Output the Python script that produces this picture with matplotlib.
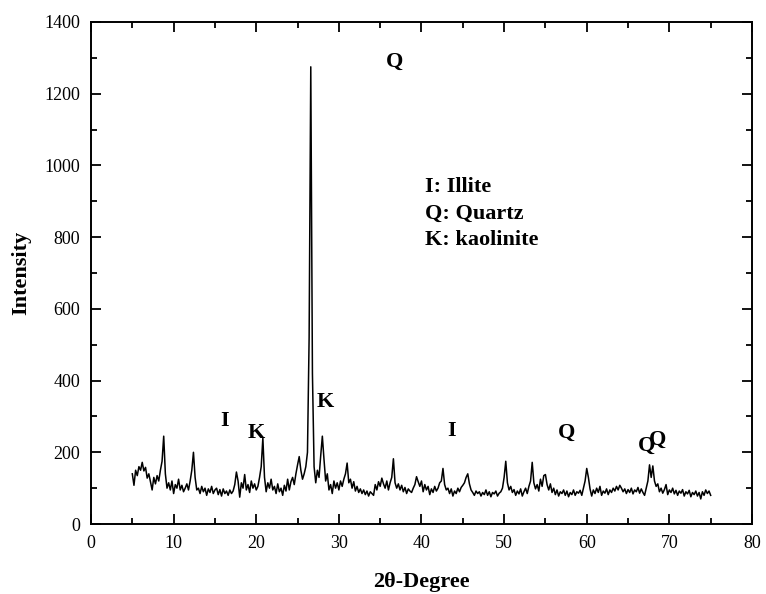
"""
XRD pattern of the clay sample (I: illite, Q: quartz, K: kaolinite)
"""

import numpy as np
import matplotlib
matplotlib.use("Agg")

import matplotlib.pyplot as plt
from matplotlib.ticker import MultipleLocator

# ── DATA ──────────────────────────────────────────────
# intensity, one value every 0.2 deg from 5 to 75
intensity = [
    140, 108, 150, 135, 160, 150, 172, 148, 158, 128,   # 5.0
    140, 118, 95, 130, 112, 135, 120, 150, 175, 245,    # 7.0
    140, 100, 115, 95, 120, 85, 110, 100, 125, 95,      # 9.0
    108, 90, 100, 112, 95, 120, 150, 200, 130, 95,      # 11.0
    100, 85, 105, 90, 100, 80, 98, 88, 105, 85,         # 13.0
    95, 100, 82, 96, 78, 98, 85, 92, 80, 95,            # 15.0
    85, 92, 110, 145, 120, 75, 115, 100, 138, 95,       # 17.0
    110, 88, 120, 100, 112, 95, 105, 130, 160, 240,     # 19.0
    130, 90, 115, 100, 125, 95, 105, 85, 112, 90,       # 21.0
    100, 80, 108, 92, 125, 95, 118, 130, 110, 140,      # 23.0
    165, 188, 150, 125, 140, 160, 200, 520, 1275, 420,  # 25.0
    160, 115, 150, 130, 190, 245, 180, 120, 140, 95,    # 27.0
    110, 85, 120, 100, 115, 95, 120, 105, 125, 140,     # 29.0
    170, 115, 125, 100, 118, 92, 105, 88, 98, 85,       # 31.0
    95, 82, 92, 78, 90, 85, 80, 110, 95, 118,           # 33.0
    105, 128, 112, 100, 120, 95, 115, 130, 182, 115,    # 35.0
    100, 112, 95, 108, 90, 102, 85, 98, 92, 88,         # 37.0
    100, 110, 132, 118, 105, 120, 90, 110, 95, 105,     # 39.0
    82, 98, 88, 105, 92, 100, 115, 120, 155, 110,       # 41.0
    95, 100, 85, 98, 78, 92, 85, 100, 90, 102,          # 43.0
    108, 115, 130, 140, 112, 95, 88, 80, 92, 85,        # 45.0
    90, 78, 88, 82, 95, 80, 90, 76, 88, 84,             # 47.0
    92, 78, 86, 90, 100, 130, 175, 115, 95, 105,        # 49.0
    88, 96, 80, 92, 84, 98, 78, 90, 100, 85,            # 51.0
    105, 120, 172, 115, 98, 110, 92, 125, 105, 135,     # 53.0
    138, 110, 95, 112, 88, 100, 82, 95, 78, 90,         # 55.0
    85, 95, 80, 92, 76, 88, 82, 95, 80, 90,             # 57.0
    86, 94, 80, 100, 120, 155, 130, 98, 78, 95,         # 59.0
    85, 100, 88, 105, 80, 92, 86, 98, 82, 95,           # 61.0
    88, 100, 92, 105, 95, 108, 100, 90, 98, 85,         # 63.0
    96, 88, 100, 84, 95, 90, 102, 86, 98, 88,           # 65.0
    80, 100, 120, 165, 130, 162, 120, 105, 112, 90,     # 67.0
    100, 86, 96, 110, 82, 95, 88, 100, 84, 94,          # 69.0
    80, 92, 86, 96, 78, 90, 84, 94, 76, 88,             # 71.0
    82, 92, 78, 88, 70, 90, 80, 95, 85, 92,             # 73.0
    80,                                                 # 75.0
]
two_theta = np.linspace(5, 75, len(intensity))

# peak labels: (text, 2theta, intensity)
peak_labels = ["Q", "I", "K", "K", "I", "Q", "Q", "Q"]
peak_x = [36.8, 16.2, 20.0, 28.3, 43.7, 57.6, 67.2, 68.6]
peak_y = [1288, 287, 254, 340, 259, 254, 217, 236]

legend_lines = ["I: Illite", "Q: Quartz", "K: kaolinite"]

# ── STYLE ─────────────────────────────────────────────
plt.rcParams["font.family"] = ["Liberation Serif", "DejaVu Serif"]

fig = plt.figure(figsize=(7.66, 5.94), dpi=100)
ax = fig.add_axes([0.1188, 0.1178, 0.8629, 0.8452])

ax.plot(two_theta, intensity, color="black", lw=1.1)

ax.set_xlim(0, 80)
ax.set_ylim(0, 1400)
ax.xaxis.set_major_locator(MultipleLocator(10))
ax.xaxis.set_minor_locator(MultipleLocator(5))
ax.yaxis.set_major_locator(MultipleLocator(200))
ax.yaxis.set_minor_locator(MultipleLocator(100))

ax.tick_params(which="both", direction="in", top=True, right=True,
               width=1.3, labelsize=13)
ax.tick_params(which="major", length=7)
ax.tick_params(which="minor", length=4)
ax.tick_params(axis="x", pad=8)
ax.tick_params(axis="y", pad=8)
for s in ax.spines.values():
    s.set_linewidth(1.4)

ax.set_xlabel("2θ-Degree", fontsize=16, fontweight="bold", labelpad=14)
ax.set_ylabel("Intensity", fontsize=16, fontweight="bold", labelpad=9)

# peak letters
for lab, px, py in zip(peak_labels, peak_x, peak_y):
    ax.text(px, py, lab, fontsize=16, fontweight="bold",
            ha="center", va="center")

# key
ax.text(40.4, 968, "\n".join(legend_lines), fontsize=16, fontweight="bold",
        ha="left", va="top", linespacing=1.45)

plt.savefig("out.png", dpi=100)
plt.close()
